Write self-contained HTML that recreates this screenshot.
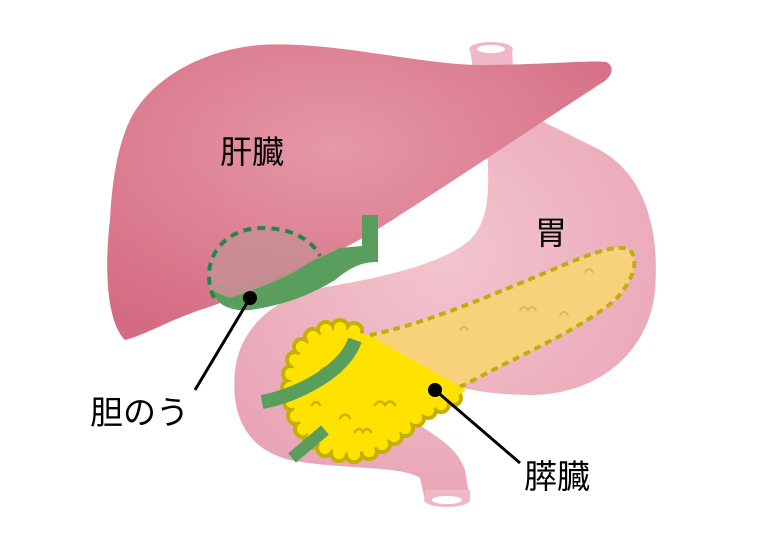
<!DOCTYPE html>
<html><head><meta charset="utf-8"><style>
html,body{margin:0;padding:0;background:#fff;}
svg{display:block}
text{font-family:"Liberation Sans","Noto Sans CJK JP",sans-serif;}
</style></head><body>
<svg width="760" height="558" viewBox="0 0 760 558" xmlns="http://www.w3.org/2000/svg">
<defs>
<radialGradient id="liv" cx="0.45" cy="0.35" r="0.7">
<stop offset="0" stop-color="#e598a6"/><stop offset="1" stop-color="#d56b82"/>
</radialGradient>
<radialGradient id="sto" cx="0.5" cy="0.4" r="0.7">
<stop offset="0" stop-color="#f3c5cf"/><stop offset="1" stop-color="#e8a1b2"/>
</radialGradient>
</defs>
<path d="M470 50 L512 50 L515 100 L478 100 Z" fill="#f0b8c6"/>
<ellipse cx="491" cy="49" rx="22" ry="7" fill="#f0b8c6"/>
<ellipse cx="491" cy="49" rx="14" ry="4" fill="#fff"/>
<path d="M478 90 C520 110 560 130 600 150 C645 175 660 230 655 290 C650 350 600 395 530 395 C495 395 470 390 450 385 L420 380
C400 375 395 390 400 410 C420 430 455 440 465 470 L470 500 L425 500 L420 478 C400 465 340 470 290 460 C250 450 230 420 235 370 C240 330 270 300 320 288 C380 278 440 265 470 240 C495 215 488 170 485 120 Z" fill="url(#sto)"/>
<path d="M425 500 L470 500 L470 490 L425 490 Z" fill="#f0b8c6"/>
<ellipse cx="447" cy="500" rx="23" ry="7" fill="#f0b8c6"/>
<ellipse cx="447" cy="500" rx="15" ry="4" fill="#fff"/>
<path d="M130 120 C150 80 200 50 260 45 C330 40 420 65 480 65 C540 65 590 60 606 62 C616 66 612 78 600 84 C560 110 470 170 400 215 C340 255 260 290 200 310 C170 320 145 335 125 340 C105 320 105 260 110 220 C112 180 118 145 130 120 Z" fill="url(#liv)"/>
<path d="M362 215 L378 215 L378 262 C360 262 350 268 335 280 C310 295 285 305 250 310 C225 312 210 300 215 285 C240 285 280 280 310 262 L340 248 L362 246 Z" fill="#5a9e5e"/>
<path d="M210 290 C200 260 220 232 260 230 C290 228 310 240 318 255 C300 272 270 285 230 298 Z" fill="#c98d92" opacity="0.9"/>
<path d="M214 298 C198 262 222 228 262 228 C292 228 312 240 320 256" fill="none" stroke="#1f8a45" stroke-width="4" stroke-dasharray="8 6"/>
<path d="M370 335 C420 325 480 300 540 275 C580 258 615 242 630 250 C640 262 632 282 615 300 C580 330 520 355 470 382 C440 398 410 395 390 380 Z" fill="#f7d27b" stroke="#bfae10" stroke-width="4" stroke-dasharray="7 5"/>
<g fill="none" stroke="#d9b95a" stroke-width="2" stroke-linecap="round">
<path d="M460 330 q4 -6 8 0"/><path d="M520 310 q4 -6 8 0 q4 -6 8 0"/><path d="M585 272 q4 -6 8 0"/><path d="M560 315 q4 -6 8 0"/>
</g>
<g stroke="#c4b000" stroke-width="4" fill="#ffe200">
<circle cx="354" cy="331" r="8"/><circle cx="340" cy="328" r="8"/><circle cx="326" cy="330" r="8"/><circle cx="313" cy="337" r="8"/><circle cx="302" cy="347" r="8"/><circle cx="295" cy="360" r="8"/><circle cx="291" cy="374" r="8"/><circle cx="290" cy="388" r="8"/><circle cx="292" cy="402" r="8"/><circle cx="296" cy="416" r="8"/><circle cx="303" cy="429" r="8"/><circle cx="312" cy="440" r="8"/><circle cx="325" cy="448" r="8"/><circle cx="339" cy="453" r="8"/><circle cx="354" cy="454" r="8"/><circle cx="369" cy="451" r="8"/><circle cx="382" cy="444" r="8"/><circle cx="394" cy="436" r="8"/><circle cx="405" cy="428" r="8"/><circle cx="416" cy="418" r="8"/><circle cx="428" cy="410" r="8"/><circle cx="441" cy="404" r="8"/><circle cx="454" cy="398" r="7"/>
</g>
<g fill="#ffe200">
<circle cx="354" cy="331" r="6"/><circle cx="340" cy="328" r="6"/><circle cx="326" cy="330" r="6"/><circle cx="313" cy="337" r="6"/><circle cx="302" cy="347" r="6"/><circle cx="295" cy="360" r="6"/><circle cx="291" cy="374" r="6"/><circle cx="290" cy="388" r="6"/><circle cx="292" cy="402" r="6"/><circle cx="296" cy="416" r="6"/><circle cx="303" cy="429" r="6"/><circle cx="312" cy="440" r="6"/><circle cx="325" cy="448" r="6"/><circle cx="339" cy="453" r="6"/><circle cx="354" cy="454" r="6"/><circle cx="369" cy="451" r="6"/><circle cx="382" cy="444" r="6"/><circle cx="394" cy="436" r="6"/><circle cx="405" cy="428" r="6"/><circle cx="416" cy="418" r="6"/><circle cx="428" cy="410" r="6"/><circle cx="441" cy="404" r="6"/><circle cx="454" cy="398" r="5"/>
<path d="M354 331 L340 328 L313 337 L295 360 L290 388 L296 416 L312 440 L339 453 L369 451 L394 436 L416 418 L441 404 L454 398 L466 390 L370 336 Z"/>
</g>
<g fill="none" stroke="#c9b400" stroke-width="2.5" stroke-linecap="round">
<path d="M320 372 q5 -8 10 0 q5 -8 10 0"/><path d="M340 418 q5 -7 10 0"/><path d="M375 405 q5 -7 10 0 q5 -7 10 0"/><path d="M312 405 q4 -6 8 0"/><path d="M355 432 q4 -6 8 0 q4 -6 8 0"/>
</g>
<path d="M262 402 C300 395 345 370 355 340" fill="none" stroke="#5a9e5e" stroke-width="14"/>
<path d="M292 458 L325 430" fill="none" stroke="#5a9e5e" stroke-width="12"/>
<line x1="250" y1="298" x2="195" y2="390" stroke="#000" stroke-width="3"/>
<circle cx="250" cy="298" r="7" fill="#000"/>
<line x1="435" y1="390" x2="520" y2="463" stroke="#000" stroke-width="3"/>
<circle cx="435" cy="390" r="7" fill="#000"/>
<text x="220" y="163" font-size="32" fill="#000">肝臓</text>
<text x="535" y="244" font-size="32" fill="#000">胃</text>
<text x="90" y="424" font-size="33" fill="#000">胆のう</text>
<text x="524" y="488" font-size="33" fill="#000">膵臓</text>
</svg>
</body></html>
